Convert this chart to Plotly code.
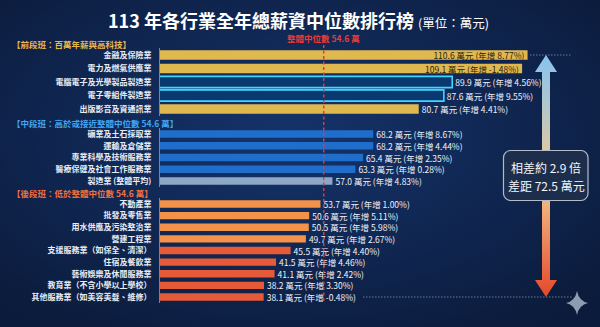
import base64
import plotly.graph_objects as go

# ---------------- data ----------------
sec1_names = ["金融及保險業", "電力及燃氣供應業", "電腦電子及光學製品製造業", "電子零組件製造業", "出版影音及資通訊業"]
sec1_vals = [110.6, 109.1, 89.9, 87.6, 80.7]
sec1_growth = [8.77, -1.48, 4.56, 9.55, 4.41]

sec2_names = ["礦業及土石採取業", "運輸及倉儲業", "專業科學及技術服務業", "醫療保健及社會工作服務業", "製造業 (整體平均)"]
sec2_vals = [68.2, 68.2, 65.4, 63.3, 57.0]
sec2_growth = [8.67, 4.44, 2.35, 0.28, 4.83]

sec3_names = ["不動產業", "批發及零售業", "用水供應及污染整治業", "營建工程業", "支援服務業（如保全、清潔）",
              "住宿及餐飲業", "藝術娛樂及休閒服務業", "教育業（不含小學以上學校）", "其他服務業（如美容美髮、維修）"]
sec3_vals = [53.7, 50.6, 50.5, 49.7, 45.5, 41.5, 41.1, 38.2, 38.1]
sec3_growth = [1.00, 5.11, 5.98, 2.67, 4.40, 4.46, 2.42, 3.30, -0.48]

median_value = 54.6
section_titles = ["【前段班：百萬年薪與高科技】",
                  "【中段班：高於或接近整體中位數 54.6 萬】",
                  "【後段班：低於整體中位數 54.6 萬】"]
title_main = "113 年各行業全年總薪資中位數排行榜"
title_unit = "(單位：萬元)"
median_label = "整體中位數 54.6 萬"
gap_lines = ["相差約 2.9 倍", "差距 72.5 萬元"]

# ---------------- styles ----------------
W, H = 600, 327
FONT = "Noto Sans CJK TC"
GOLD, GLOW_FILL, GLOW_LINE = "#e0b850", "#0c3870", "#3cd8ff"
BLUE, GREYBLUE = "#1f6ecb", "#8ea7c6"
ORANGE, REDOR = "#f5924a", "#e65a38"

sec1_colors = [GOLD, GOLD, GLOW_FILL, GLOW_FILL, GOLD]
sec1_lcolors = [GOLD, GOLD, GLOW_LINE, GLOW_LINE, GOLD]
sec1_lwidth = [0, 0, 1.6, 1.6, 0]
sec1_widths = [0.70, 0.70, 0.84, 0.84, 0.70]
sec1_pos = ["inside", "inside", "outside", "outside", "outside"]
sec2_colors = [BLUE] * 4 + [GREYBLUE]
sec3_colors = [ORANGE] * 4 + [REDOR] * 5


def py(px):
    return 1 - px / H


def fmt(v, g):
    return f"{v:.1f} 萬元 (年增 {g:.2f}%)"


fig = go.Figure()

fig.add_trace(go.Bar(
    y=sec1_names, x=sec1_vals, orientation="h", yaxis="y", xaxis="x",
    width=sec1_widths,
    marker=dict(color=sec1_colors, line=dict(color=sec1_lcolors, width=sec1_lwidth)),
    text=[fmt(v, g) for v, g in zip(sec1_vals, sec1_growth)],
    textposition=sec1_pos, insidetextanchor="end", constraintext="none", cliponaxis=False,
    insidetextfont=dict(family=FONT, size=8.5, color="#2a220c"),
    outsidetextfont=dict(family=FONT, size=8.5, color="#eef2f8"),
    showlegend=False, hoverinfo="skip"))

fig.add_trace(go.Bar(
    y=sec2_names, x=sec2_vals, orientation="h", yaxis="y2", xaxis="x",
    width=0.64, marker=dict(color=sec2_colors, line=dict(width=0)),
    text=[fmt(v, g) for v, g in zip(sec2_vals, sec2_growth)],
    textposition="outside", constraintext="none", cliponaxis=False,
    outsidetextfont=dict(family=FONT, size=8.5, color="#eef2f8"),
    showlegend=False, hoverinfo="skip"))

fig.add_trace(go.Bar(
    y=sec3_names, x=sec3_vals, orientation="h", yaxis="y3", xaxis="x",
    width=0.63, marker=dict(color=sec3_colors, line=dict(width=0)),
    text=[fmt(v, g) for v, g in zip(sec3_vals, sec3_growth)],
    textposition="outside", constraintext="none", cliponaxis=False,
    outsidetextfont=dict(family=FONT, size=8.5, color="#eef2f8"),
    showlegend=False, hoverinfo="skip"))

yax_common = dict(type="category", autorange="reversed", anchor="x", showgrid=False, zeroline=False,
                  showline=True, linecolor="rgba(200,212,232,0.55)", linewidth=1, ticks="",
                  ticklabelstandoff=6,
                  tickfont=dict(family=FONT, size=8, color="#e8edf5", weight="bold"))

# ---------------- decorative background (svg) ----------------
svg = f'''<svg xmlns="http://www.w3.org/2000/svg" width="{W}" height="{H}" viewBox="0 0 {W} {H}" preserveAspectRatio="none">
<defs>
<radialGradient id="bg" cx="48%" cy="42%" r="70%">
<stop offset="0" stop-color="#15336a"/><stop offset="1" stop-color="#0b1b3b"/>
</radialGradient>
<linearGradient id="ar" x1="0" y1="55" x2="0" y2="297" gradientUnits="userSpaceOnUse">
<stop offset="0" stop-color="#86c4f2"/><stop offset="0.38" stop-color="#d7c9a8"/>
<stop offset="0.62" stop-color="#f3b07a"/><stop offset="1" stop-color="#e4482a"/>
</linearGradient>
</defs>
<rect width="{W}" height="{H}" fill="url(#bg)"/>
<line x1="530" y1="55" x2="572" y2="55" stroke="#8290a8" stroke-width="0.8" stroke-dasharray="1.5,1.5"/>
<line x1="363" y1="297" x2="573" y2="297" stroke="#8290a8" stroke-width="0.8" stroke-dasharray="1.5,1.5"/>
<path d="M546 55 L557 72 L550 72 L550 280 L557 280 L546 297 L535 280 L542 280 L542 72 L535 72 Z" fill="url(#ar)"/>
<rect x="503.5" y="150.5" width="84.5" height="50" rx="7" fill="#1c2e4b" stroke="#b4bccb" stroke-width="1.2"/>
<path d="M577 291 Q579 301 588 303 Q579 305 577 315 Q575 305 566 303 Q575 301 577 291 Z" fill="#8e9cb2"/>
</svg>'''
src = "data:image/svg+xml;base64," + base64.b64encode(svg.encode("utf-8")).decode()

annotations = [
    dict(text=f"<b>{title_main}</b> <span style='font-size:12.5px'>{title_unit}</span>",
         x=298 / W, y=py(20.5), xref="paper", yref="paper", showarrow=False,
         font=dict(family=FONT, size=18, color="#ffffff"), xanchor="center", yanchor="middle"),
    dict(text=median_label, x=median_value, xref="x", y=py(38), yref="paper", showarrow=False,
         font=dict(family=FONT, size=8.5, color="#ea3b37", weight="bold"), xanchor="center", yanchor="middle"),
]
sec_colors = ["#e8b84c", "#41a6f2", "#f2703c"]
sec_y = [44, 122.5, 193]
for t, c, yy in zip(section_titles, sec_colors, sec_y):
    annotations.append(dict(text=t, x=10 / W, y=py(yy), xref="paper", yref="paper", showarrow=False,
                            xanchor="left", yanchor="middle",
                            font=dict(family=FONT, size=8.5, color=c, weight="bold")))
for t, yy in zip(gap_lines, [167, 185]):
    annotations.append(dict(text=t, x=546 / W, y=py(yy), xref="paper", yref="paper", showarrow=False,
                            xanchor="center", yanchor="middle",
                            font=dict(family=FONT, size=12, color="#f4f6fa")))

fig.update_layout(
    width=W, height=H, margin=dict(l=0, r=0, t=0, b=0),
    paper_bgcolor="#0e2246", plot_bgcolor="rgba(0,0,0,0)",
    xaxis=dict(domain=[160 / W, 1], range=[9.62, 130.5], visible=False, anchor="y3"),
    yaxis=dict(domain=[py(115.75), py(48.25)], **yax_common),
    yaxis2=dict(domain=[py(186.9), py(128.1)], **yax_common),
    yaxis3=dict(domain=[py(302.8), py(198.2)], **yax_common),
    shapes=[dict(type="line", xref="x", yref="paper", x0=median_value, x1=median_value,
                 y0=py(301), y1=py(45), line=dict(color="#e53935", width=1.5, dash="3px,2.5px"))],
    annotations=annotations,
    images=[dict(source=src, xref="paper", yref="paper", x=0, y=1, sizex=1, sizey=1,
                 xanchor="left", yanchor="top", sizing="stretch", layer="below")],
    font=dict(family=FONT),
)

fig.write_html("out.html")
